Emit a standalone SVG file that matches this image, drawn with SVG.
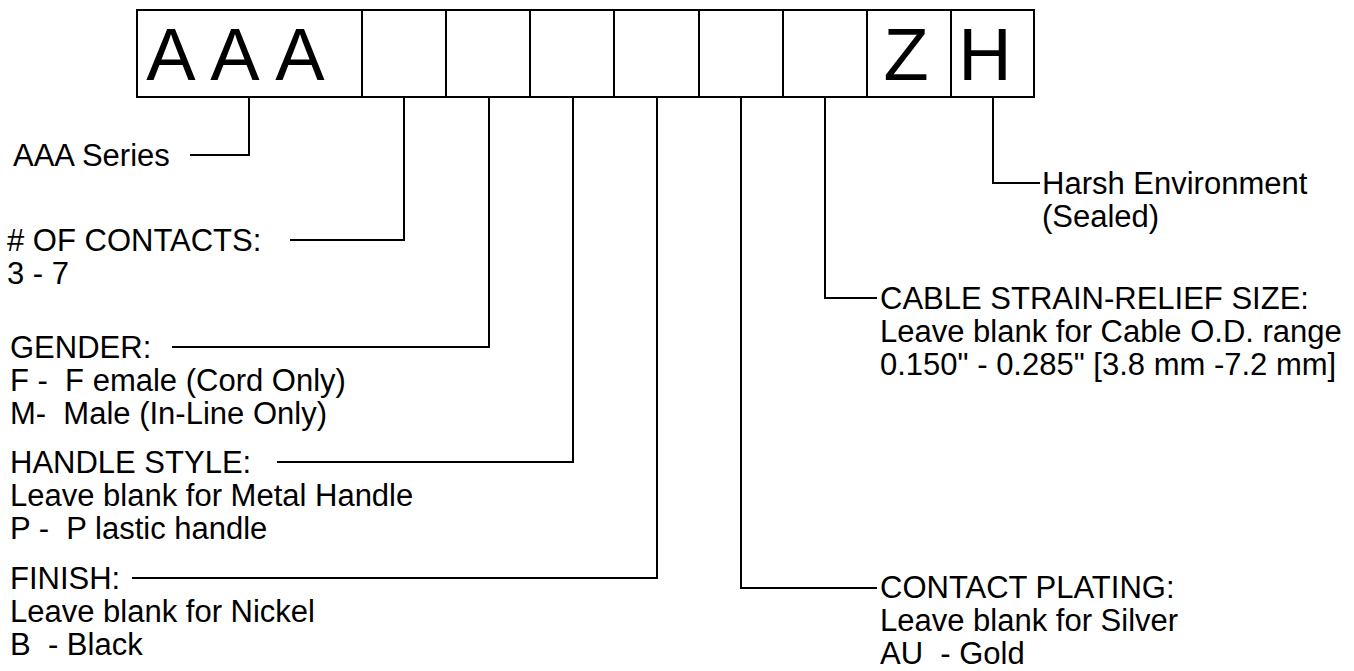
<svg xmlns="http://www.w3.org/2000/svg" width="1354" height="671" viewBox="0 0 1354 671">
<style>
.box{fill:#fff;stroke:#000;stroke-width:2}
.ln{fill:none;stroke:#000;stroke-width:2}
.big{font-family:"Liberation Sans",Arial,sans-serif;font-size:74px;fill:#000;text-anchor:middle}
.t{font-family:"Liberation Sans",Arial,sans-serif;font-size:31px;fill:#000;white-space:pre}
</style>
<rect width="1354" height="671" fill="#fff"/>
<g id="code-boxes">
<rect class="box" x="137" y="10" width="897" height="87"/>
<g id="cells" class="ln">
<line x1="362" y1="10" x2="362" y2="97"/>
<line x1="446" y1="10" x2="446" y2="97"/>
<line x1="530" y1="10" x2="530" y2="97"/>
<line x1="614" y1="10" x2="614" y2="97"/>
<line x1="699" y1="10" x2="699" y2="97"/>
<line x1="783" y1="10" x2="783" y2="97"/>
<line x1="867" y1="10" x2="867" y2="97"/>
<line x1="951" y1="10" x2="951" y2="97"/>
</g>
<text class="big" y="80"><tspan x="171">A</tspan><tspan x="235">A</tspan><tspan x="300">A</tspan></text>
<text class="big" x="906" y="80">Z</text>
<text class="big" x="985" y="80">H</text>
</g>
<g id="connectors" class="ln">
<polyline points="249,97 249,155 190,155"/>
<polyline points="404,97 404,240 290,240"/>
<polyline points="489,97 489,347 172,347"/>
<polyline points="573,97 573,462 277,462"/>
<polyline points="657,97 657,578 132,578"/>
<polyline points="741,97 741,588 877,588"/>
<polyline points="825,97 825,298 877,298"/>
<polyline points="993,97 993,183 1040,183"/>
</g>
<g id="series"><text class="t" x="13" y="166">AAA Series</text></g>
<g id="contacts"><text class="t" x="7" y="251"># OF CONTACTS:</text><text class="t" x="7" y="284">3 - 7</text></g>
<g id="gender"><text class="t" x="10" y="358">GENDER:</text><text class="t" x="10" y="391">F -  F emale (Cord Only)</text><text class="t" x="10" y="424">M-  Male (In-Line Only)</text></g>
<g id="handle"><text class="t" x="10" y="473">HANDLE STYLE:</text><text class="t" x="10" y="506">Leave blank for Metal Handle</text><text class="t" x="10" y="539">P -  P lastic handle</text></g>
<g id="finish"><text class="t" x="10" y="589">FINISH:</text><text class="t" x="10" y="622">Leave blank for Nickel</text><text class="t" x="10" y="655">B  - Black</text></g>
<g id="harsh"><text class="t" x="1042" y="194">Harsh Environment</text><text class="t" x="1042" y="227">(Sealed)</text></g>
<g id="cable"><text class="t" x="880" y="309">CABLE STRAIN-RELIEF SIZE:</text><text class="t" x="880" y="342">Leave blank for Cable O.D. range</text><text class="t" x="880" y="375">0.150" - 0.285" [3.8 mm -7.2 mm]</text></g>
<g id="plating"><text class="t" x="880" y="598">CONTACT PLATING:</text><text class="t" x="880" y="631">Leave blank for Silver</text><text class="t" x="880" y="664">AU  - Gold</text></g>
</svg>
